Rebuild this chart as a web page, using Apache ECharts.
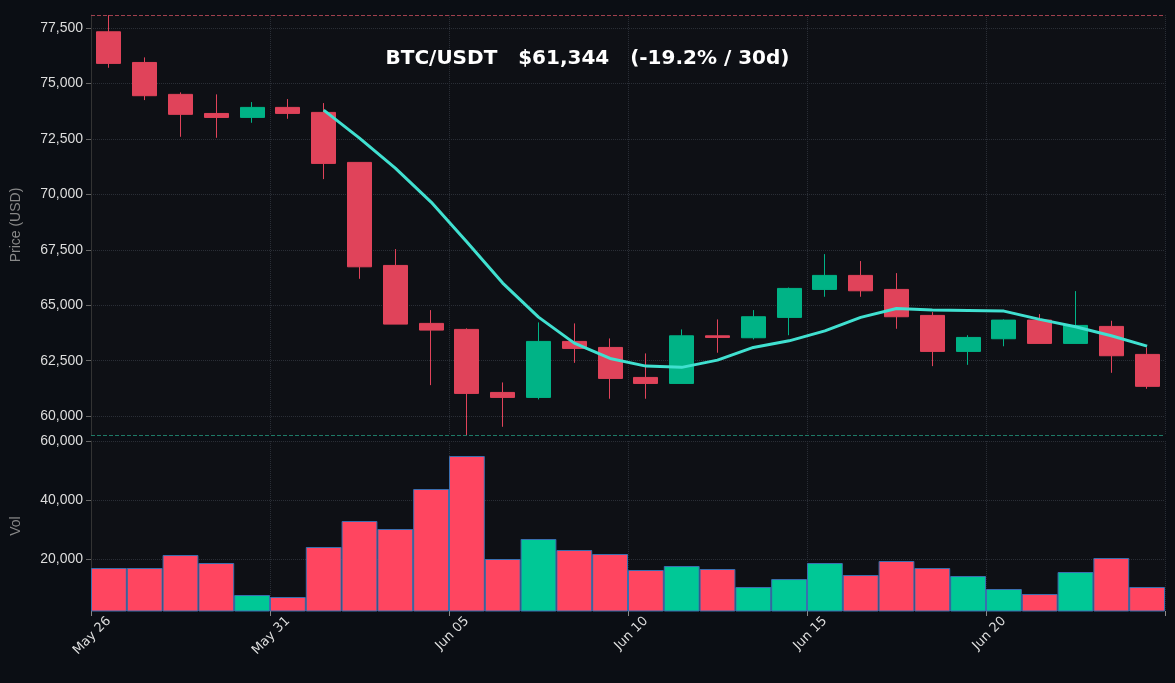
<!DOCTYPE html><html><head><meta charset="utf-8"><script src="https://cdn.jsdelivr.net/npm/echarts@6/dist/echarts.min.js"></script>
<style>html,body{margin:0;background:#0b0e14}#c{width:1175px;height:683px}</style></head><body><div id="c"></div><script>
const dates=['May 26','May 27','May 28','May 29','May 30','May 31','Jun 01','Jun 02','Jun 03','Jun 04','Jun 05','Jun 06','Jun 07','Jun 08','Jun 09','Jun 10','Jun 11','Jun 12','Jun 13','Jun 14','Jun 15','Jun 16','Jun 17','Jun 18','Jun 19','Jun 20','Jun 21','Jun 22','Jun 23','Jun 24'];
const opens =[77333,75950,74510,73650,73473,73923,73698,71443,66797,64183,63912,61070,60845,63370,63099,61746,61475,63623,63535,64453,65715,66347,65715,64543,62919,63490,64332,63280,64047,62784];
const closes=[75908,74450,73610,73470,73923,73653,71398,66735,64150,63880,61025,60845,63370,63055,61701,61475,63623,63550,64483,65760,66347,65653,64483,62919,63550,64332,63280,64092,62724,61344];
const lows  =[75710,74253,72598,72553,73230,73410,70690,66194,64150,61399,59150,59520,60755,62405,60785,60785,61475,62860,63460,63650,65384,65384,63940,62255,62315,63152,63280,63280,61955,61234];
const highs =[78086,76178,74600,74510,74163,74298,74118,71443,67533,64782,63960,61521,64228,64183,63505,62829,63911,64363,64782,65800,67307,66994,66450,64692,63650,64363,64603,65639,64302,63099];
const ma7=['-','-','-','-','-','-',73800,72540,71186,69652,67849,66000,64466,63293,62600,62256,62200,62527,63100,63397,63848,64453,64858,64782,64760,64737,64363,64030,63623,63160];
const volumes=[16950,16950,21350,18640,7800,7120,24070,32880,30170,43730,54920,20000,26780,23050,21700,16270,17630,16610,10500,13200,18640,14570,19320,16950,14240,9830,8130,15590,20340,10500];
const priceTicks=[60000,62500,65000,67500,70000,72500,75000,77500];
const volTicks=[20000,40000,60000];
const RED='#e0435a',GREEN='#00b386',VRED='#ff4560',VGREEN='#00c896';
const c=echarts.init(document.getElementById('c'));
const grid={color:'#2a2e36',type:'dotted'};
c.setOption({backgroundColor:'#0b0e14',animation:false,
title:{text:'BTC/USDT   $61,344   (-19.2% / 30d)',left:'center',top:44,textStyle:{color:'#fff',fontSize:20,fontWeight:'bold',fontFamily:'DejaVu Sans'}},
grid:[{left:91,right:10,top:15,bottom:248,backgroundColor:'#0e1015',show:true,borderWidth:0},{left:91,right:10,top:441,bottom:72,show:true,backgroundColor:'#0e1015',borderWidth:0}],
xAxis:[{type:'category',data:dates,gridIndex:0,axisLabel:{show:false},axisTick:{show:false},axisLine:{show:false},splitLine:{show:true,interval:4,lineStyle:grid}},
{type:'category',data:dates,gridIndex:1,axisLabel:{color:'#ddd',rotate:45,interval:4,fontSize:13,fontFamily:'DejaVu Sans'},axisTick:{show:true,interval:4,lineStyle:{color:'#888'}},axisLine:{show:false},splitLine:{show:true,interval:4,lineStyle:grid}}],
yAxis:[{gridIndex:0,min:59150,max:78090,name:'Price (USD)',nameLocation:'middle',nameGap:68,nameTextStyle:{color:'#888',fontSize:14},axisLine:{show:true,lineStyle:{color:'#333'}},axisTick:{show:true,customValues:priceTicks,lineStyle:{color:'#666'}},axisLabel:{color:'#ddd',fontSize:14,customValues:priceTicks},splitLine:{lineStyle:grid}},
{gridIndex:1,min:2373,max:60000,name:'Vol',nameLocation:'middle',nameGap:68,nameTextStyle:{color:'#888',fontSize:14},axisLine:{show:true,lineStyle:{color:'#333'}},axisTick:{show:true,customValues:volTicks,lineStyle:{color:'#666'}},axisLabel:{color:'#ddd',fontSize:14,customValues:volTicks},splitLine:{lineStyle:grid}}],
series:[{type:'candlestick',xAxisIndex:0,yAxisIndex:0,barWidth:'68%',data:dates.map((d,i)=>[opens[i],closes[i],lows[i],highs[i]]),
itemStyle:{color:GREEN,color0:RED,borderColor:GREEN,borderColor0:RED},
markLine:{symbol:'none',silent:true,label:{show:false},data:[{yAxis:78090,lineStyle:{color:'#a0404e',type:'dashed',width:1}},{yAxis:59150,lineStyle:{color:'#1e7a66',type:'dashed',width:1}}]}},
{type:'line',xAxisIndex:0,yAxisIndex:0,data:ma7,showSymbol:false,lineStyle:{color:'#40e0d0',width:3},itemStyle:{color:'#40e0d0'}},
{type:'bar',xAxisIndex:1,yAxisIndex:1,barCategoryGap:'0%',data:volumes.map((v,i)=>({value:v,itemStyle:{color:closes[i]>=opens[i]?VGREEN:VRED}})),itemStyle:{borderColor:'#3a6fb0',borderWidth:1}}]});
</script></body></html>
